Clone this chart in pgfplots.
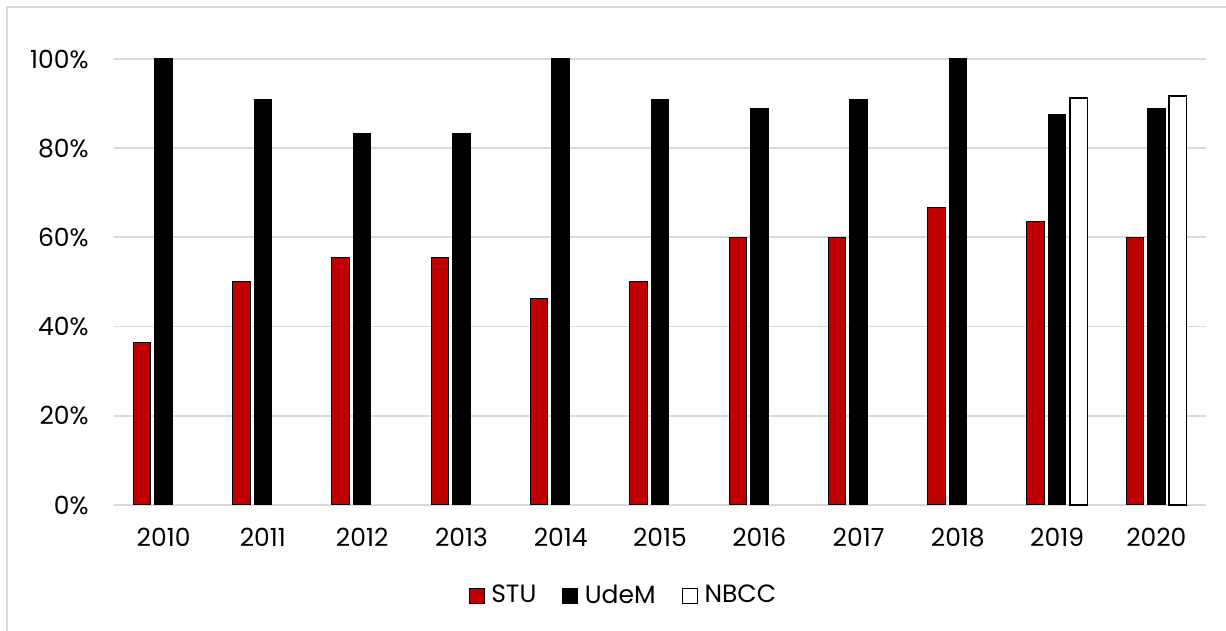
\documentclass[border=0pt]{standalone}
\usepackage{pgfplots}
\pgfplotsset{compat=1.18}
\usepackage{fontspec}
\setmainfont{Poppins}
\definecolor{stured}{HTML}{C00000}
\definecolor{gridgray}{HTML}{D9D9D9}
\begin{document}
\fontsize{12.5}{15}\selectfont
\begin{tikzpicture}[x=0.5pt,y=0.5pt]
\useasboundingbox (0,0) rectangle (1226,631);
\draw[gridgray,line width=1pt] (7,0) -- (7,624) -- (1226,624);
\begin{axis}[
  at={(57pt,63pt)}, anchor=south west,
  scale only axis, width=546pt, height=223pt,
  xmin=-0.5, xmax=10.5, ymin=0, ymax=100,
  clip=false,
  axis line style={draw=none},
  tick style={draw=none}, major tick length=0pt,
  ymajorgrids, grid style={gridgray, line width=0.9pt},
  xtick={0,1,2,3,4,5,6,7,8,9,10},
  xticklabels={2010,2011,2012,2013,2014,2015,2016,2017,2018,2019,2020},
  ytick={0,20,40,60,80,100},
  yticklabel={\pgfmathprintnumber{\tick}\%},
  /pgf/number format/assume math mode=true,
  yticklabel style={anchor=east, inner sep=0pt, xshift=-12.5pt},
  xticklabel style={anchor=north, inner sep=0pt, yshift=-11.5pt},
  ticklabel style={font=\fontsize{12.5}{15}\selectfont},
  ybar, bar width=8.75pt,
  legend style={at={(0.4675,-0.204)}, anchor=center, draw=none,
    legend columns=-1, font=\fontsize{12.5}{15}\selectfont,
    /tikz/every even column/.append style={column sep=11pt},
    /tikz/every odd column/.append style={column sep=1.2pt},
    legend cell align=left},
  legend image code/.code={\draw[#1] (0pt,-3.75pt) rectangle (7.5pt,3.75pt);},
]
\addplot[ybar, bar shift=-10.75pt, fill=stured, draw=black, line width=0.5pt]
  coordinates {(0,36.4) (1,50) (2,55.6) (3,55.6) (4,46.2) (5,50) (6,60) (7,60) (8,66.7) (9,63.6) (10,60)};
\addplot[ybar, bar shift=0pt, fill=black, draw=black, line width=0.5pt]
  coordinates {(0,100) (1,90.9) (2,83.3) (3,83.3) (4,100) (5,90.9) (6,88.9) (7,90.9) (8,100) (9,87.5) (10,88.9)};
\addplot[ybar, bar shift=10.75pt, fill=white, draw=black, line width=0.8pt]
  coordinates {(9,91.3) (10,91.7)};
\legend{STU,UdeM,NBCC}
\end{axis}
\end{tikzpicture}
\end{document}
